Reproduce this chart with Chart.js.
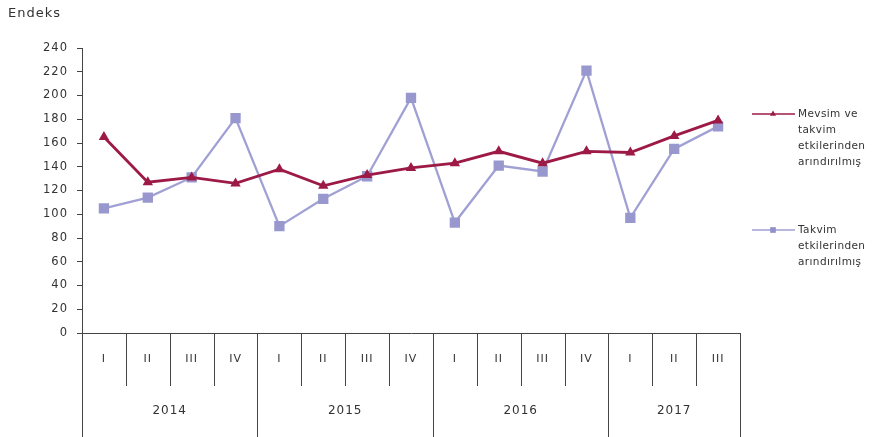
<!DOCTYPE html>
<html>
<head>
<meta charset="utf-8">
<script src="https://cdn.jsdelivr.net/npm/chart.js@4.4.0/dist/chart.umd.min.js"></script>
<style>
  html, body { margin: 0; padding: 0; background: #fff; }
  #wrap { position: relative; width: 873px; height: 437px; }
</style>
</head>
<body>
<div id="wrap"><canvas id="chart" width="873" height="437"></canvas></div>
<script>
// quarters and years
const quarters = ['I', 'II', 'III', 'IV', 'I', 'II', 'III', 'IV', 'I', 'II', 'III', 'IV', 'I', 'II', 'III'];
const years = ['2014', '2015', '2016', '2017'];
const yearSpans = [4, 4, 4, 3];

// Mevsim ve takvim etkilerinden arındırılmış
const seasonalAdj = [165, 127, 131, 126, 138, 124, 133, 139, 143, 153, 143, 153, 152, 166, 179];
// Takvim etkilerinden arındırılmış
const calendarAdj = [105, 114, 131, 181, 90, 113, 132, 198, 93, 141, 136, 221, 97, 155, 174];

const seriesNames = [
  ['Mevsim ve', 'takvim', 'etkilerinden', 'arındırılmış'],
  ['Takvim', 'etkilerinden', 'arındırılmış']
];

const redColor = '#9c1a45';
const blueColor = '#a0a0d4';
const axisColor = '#444';
const fontFamily = '"DejaVu Sans", Verdana, sans-serif';

// wide, loosely spaced lettering like the source
const spacingPlugin = {
  id: 'spacing',
  beforeUpdate(chart) { chart.ctx.letterSpacing = '1px'; },
  beforeDraw(chart) { chart.ctx.letterSpacing = '1px'; }
};

// draws year row, category separators and the side legend
const extrasPlugin = {
  id: 'extras',
  afterDraw(chart) {
    const ctx = chart.ctx;
    const x = chart.scales.x;
    const area = chart.chartArea;
    const step = x.getPixelForValue(1) - x.getPixelForValue(0);
    const axisY = area.bottom;

    ctx.save();
    ctx.strokeStyle = axisColor;
    ctx.lineWidth = 1;

    // quarter separators
    let idx = 0;
    const yearBounds = [0];
    yearSpans.forEach(n => { idx += n; yearBounds.push(idx); });
    for (let i = 0; i <= quarters.length; i++) {
      const px = Math.round(x.getPixelForValue(i) - step / 2) + 0.5;
      const isYear = yearBounds.includes(i);
      ctx.beginPath();
      ctx.moveTo(px, axisY);
      ctx.lineTo(px, isYear ? 437 : 386);
      ctx.stroke();
    }

    // year labels
    ctx.fillStyle = '#333';
    ctx.font = '12px ' + fontFamily;
    ctx.textAlign = 'center';
    ctx.textBaseline = 'middle';
    years.forEach((yr, i) => {
      const a = x.getPixelForValue(yearBounds[i]) - step / 2;
      const b = x.getPixelForValue(yearBounds[i + 1]) - step / 2;
      ctx.fillText(yr, (a + b) / 2, 411);
    });

    // legend
    const legendY = [114, 230];
    const colors = [redColor, blueColor];
    const styles = ['triangle', 'rect'];
    ctx.font = '10.5px ' + fontFamily;
    ctx.letterSpacing = '0.4px';
    ctx.textAlign = 'left';
    seriesNames.forEach((lines, i) => {
      const ly = legendY[i];
      ctx.strokeStyle = colors[i];
      ctx.lineWidth = 1.5;
      ctx.beginPath();
      ctx.moveTo(752, ly);
      ctx.lineTo(795, ly);
      ctx.stroke();
      ctx.fillStyle = i === 0 ? redColor : '#9090cc';
      Chart.helpers.drawPoint(ctx, { pointStyle: styles[i], radius: i === 0 ? 3.5 : 4, borderWidth: 0 }, 773, ly);
      ctx.fillStyle = '#333';
      lines.forEach((t, j) => ctx.fillText(t, 798, ly + j * 16));
    });

    // title
    ctx.font = '13px ' + fontFamily;
    ctx.fillStyle = '#333';
    ctx.letterSpacing = '1px';
    ctx.fillText('Endeks', 8, 14);
    ctx.restore();
  }
};

new Chart(document.getElementById('chart').getContext('2d'), {
  type: 'line',
  data: {
    labels: quarters,
    datasets: [{
      label: seriesNames[0].join(' '),
      data: seasonalAdj,
      borderColor: redColor,
      backgroundColor: redColor,
      borderWidth: 2.8,
      pointStyle: 'triangle',
      pointRadius: 6,
      pointBorderWidth: 0,
      tension: 0,
      order: 0
    }, {
      label: seriesNames[1].join(' '),
      data: calendarAdj,
      borderColor: blueColor,
      backgroundColor: '#9898cf',
      borderWidth: 2.3,
      pointStyle: 'rect',
      pointRadius: 7.3,
      pointBorderWidth: 0,
      tension: 0,
      order: 1
    }]
  },
  options: {
    responsive: false,
    animation: false,
    layout: { padding: { left: 0, right: 133, top: 48, bottom: 0 } },
    plugins: { legend: { display: false }, tooltip: { enabled: false } },
    scales: {
      x: {
        offset: true,
        grid: { display: false, drawTicks: false },
        border: { display: true, color: axisColor, width: 1 },
        ticks: {
          color: '#333',
          font: { family: fontFamily, size: 11 },
          padding: 20,
          maxRotation: 0,
          autoSkip: false
        },
        afterFit(scale) { scale.height = 104; }
      },
      y: {
        min: 0,
        max: 240,
        ticks: {
          stepSize: 20,
          color: '#333',
          font: { family: fontFamily, size: 11.5 },
          padding: 9
        },
        grid: { drawOnChartArea: false, drawTicks: true, tickLength: 5, color: axisColor },
        border: { display: true, color: axisColor, width: 1 },
        afterFit(scale) { scale.width = 82; }
      }
    }
  },
  plugins: [spacingPlugin, extrasPlugin]
});
</script>
</body>
</html>
